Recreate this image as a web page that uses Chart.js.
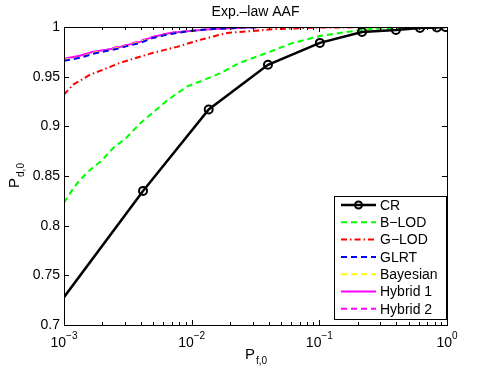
<!DOCTYPE html>
<html>
<head>
<meta charset="utf-8">
<script src="https://cdn.jsdelivr.net/npm/chart.js@4.4.1/dist/chart.umd.min.js"></script>
<style>
  body { margin: 0; background: #fff; }
  canvas { display: block; }
</style>
</head>
<body>
<canvas id="roc" width="494" height="366"></canvas>
<script>
// values (x = P_f,0 on log axis, y = P_d,0)
const crX = [0.001, 0.00416, 0.0136, 0.0396, 0.101, 0.216, 0.398, 0.614, 0.834, 0.97]
const crY = [0.728, 0.835, 0.917, 0.962, 0.984, 0.995, 0.997, 0.999, 0.9995, 1.0]

const bLodX = [0.001, 0.00116, 0.00133, 0.0016, 0.00199, 0.00242, 0.00311, 0.00394, 0.00498, 0.00641, 0.00919, 0.0158, 0.0239, 0.0389, 0.0621, 0.101, 0.164, 0.249, 0.377, 1]
const bLodY = [0.823, 0.836, 0.846, 0.856, 0.866, 0.878, 0.889, 0.903, 0.914, 0.926, 0.940, 0.952, 0.964, 0.974, 0.984, 0.991, 0.995, 0.998, 0.999, 1]

const gLodX = [0.001, 0.00118, 0.0016, 0.00202, 0.00275, 0.00498, 0.00767, 0.0116, 0.0189, 0.0302, 0.0466, 0.1, 1]
const gLodY = [0.932, 0.942, 0.952, 0.957, 0.964, 0.974, 0.980, 0.987, 0.994, 0.996, 0.998, 0.9995, 1]

const stairX = [0.001, 0.00133, 0.00169, 0.00217, 0.0026, 0.00317, 0.00394, 0.00497, 0.00677, 0.00968, 0.0147, 0.0343, 1]
const glrtY = [0.966, 0.969, 0.973, 0.976, 0.978, 0.981, 0.984, 0.989, 0.993, 0.996, 0.998, 1, 1]
const bayesY = [0.967, 0.969, 0.974, 0.976, 0.979, 0.981, 0.985, 0.989, 0.993, 0.996, 0.998, 1, 1]
const hyb1Y = [0.968, 0.971, 0.975, 0.977, 0.979, 0.982, 0.985, 0.990, 0.994, 0.996, 0.998, 1, 1]
const hyb2Y = [0.967, 0.970, 0.974, 0.977, 0.980, 0.982, 0.986, 0.990, 0.994, 0.996, 0.998, 1, 1]

const yTicks = [0.7, 0.75, 0.8, 0.85, 0.9, 0.95, 1]
const yTickLabels = ['0.7', '0.75', '0.8', '0.85', '0.9', '0.95', '1']
const xTicks = [0.001, 0.01, 0.1, 1]
const xTickExp = ['\u22123', '\u22122', '\u22121', '0']

const FONT = '"Liberation Sans", Arial, sans-serif'

const pts = (xs, ys) => xs.map((x, i) => ({ x: x, y: ys[i] }))

const datasets = [
    { label: 'CR', data: pts(crX, crY), borderColor: '#000', borderWidth: 2.5,
      pointRadius: crX.map((x, i) => i === 0 ? 0 : 4), pointStyle: 'circle',
      pointBorderColor: '#000', pointBackgroundColor: 'rgba(0,0,0,0)', pointBorderWidth: 2 },
    { label: 'B\u2212LOD', data: pts(bLodX, bLodY), borderColor: '#00ff00', borderWidth: 2, borderDash: [6, 4] },
    { label: 'G\u2212LOD', data: pts(gLodX, gLodY), borderColor: '#ff0000', borderWidth: 2, borderDash: [6, 3, 1.5, 3] },
    { label: 'GLRT', data: pts(stairX, glrtY), borderColor: '#0000ff', borderWidth: 2, borderDash: [6, 4] },
    { label: 'Bayesian', data: pts(stairX, bayesY), borderColor: '#ffff00', borderWidth: 2, borderDash: [6, 4] },
    { label: 'Hybrid 1', data: pts(stairX, hyb1Y), borderColor: '#ff00ff', borderWidth: 2 },
    { label: 'Hybrid 2', data: pts(stairX, hyb2Y), borderColor: '#ff00ff', borderWidth: 2, borderDash: [6, 4] }
]
datasets.forEach(d => {
    d.fill = false
    d.tension = 0
    if (d.pointRadius === undefined) d.pointRadius = 0
})

// matlab-ish frame, ticks, labels and the boxed legend
const matlabAxes = {
    id: 'matlabAxes',
    afterDraw(chart) {
        const ctx = chart.ctx
        const a = chart.chartArea
        const xs = chart.scales.x
        const ys = chart.scales.y
        ctx.save()
        ctx.strokeStyle = '#000'
        ctx.fillStyle = '#000'
        ctx.lineWidth = 1

        // box
        ctx.strokeRect(a.left + 0.5, a.top + 0.5, a.right - a.left, a.bottom - a.top)

        // y ticks
        ctx.beginPath()
        yTicks.forEach(v => {
            const y = Math.round(ys.getPixelForValue(v)) + 0.5
            ctx.moveTo(a.left, y); ctx.lineTo(a.left + 5, y)
            ctx.moveTo(a.right, y); ctx.lineTo(a.right - 5, y)
        })
        // x ticks, major + minor
        for (let e = -3; e <= 0; e++) {
            for (let m = 1; m <= 9; m++) {
                const v = m * Math.pow(10, e)
                if (v > 1.0001) break
                const x = Math.round(xs.getPixelForValue(v)) + 0.5
                const len = m === 1 ? 5 : 3
                ctx.moveTo(x, a.bottom); ctx.lineTo(x, a.bottom - len)
                ctx.moveTo(x, a.top); ctx.lineTo(x, a.top + len)
            }
        }
        ctx.stroke()

        // y tick labels
        ctx.font = '14px ' + FONT
        ctx.textAlign = 'right'
        ctx.textBaseline = 'middle'
        yTicks.forEach((v, i) => {
            ctx.fillText(yTickLabels[i], a.left - 4, ys.getPixelForValue(v))
        })

        // x tick labels 10^k
        xTicks.forEach((v, i) => {
            const x = xs.getPixelForValue(v)
            ctx.font = '14px ' + FONT
            const w1 = ctx.measureText('10').width
            ctx.font = '10px ' + FONT
            const w2 = ctx.measureText(xTickExp[i]).width
            const x0 = x - (w1 + w2) / 2
            ctx.textAlign = 'left'
            ctx.textBaseline = 'alphabetic'
            ctx.font = '14px ' + FONT
            ctx.fillText('10', x0, a.bottom + 22)
            ctx.font = '10px ' + FONT
            ctx.fillText(xTickExp[i], x0 + w1, a.bottom + 14)
        })

        // x axis label P_f,0
        const cx = (a.left + a.right) / 2
        ctx.font = '15px ' + FONT
        const pw = ctx.measureText('P').width
        ctx.font = '10px ' + FONT
        const sw = ctx.measureText('f,0').width
        ctx.textAlign = 'left'
        ctx.font = '15px ' + FONT
        ctx.fillText('P', cx - (pw + sw) / 2, a.bottom + 34)
        ctx.font = '10px ' + FONT
        ctx.fillText('f,0', cx - (pw + sw) / 2 + pw + 1, a.bottom + 39)

        // y axis label P_d,0
        ctx.save()
        ctx.translate(19, (a.top + a.bottom) / 2)
        ctx.rotate(-Math.PI / 2)
        ctx.font = '15px ' + FONT
        const pw2 = ctx.measureText('P').width
        ctx.font = '10px ' + FONT
        const sw2 = ctx.measureText('d,0').width
        ctx.font = '15px ' + FONT
        ctx.fillText('P', -(pw2 + sw2) / 2, 0)
        ctx.font = '10px ' + FONT
        ctx.fillText('d,0', -(pw2 + sw2) / 2 + pw2 + 1, 5)
        ctx.restore()

        // title
        ctx.font = '14px ' + FONT
        ctx.textAlign = 'center'
        ctx.textBaseline = 'middle'
        ctx.fillText('Exp.\u2013law AAF', cx, 12)

        // legend
        const lx = 334, ly = 196, lw = 112, lh = 123
        ctx.fillStyle = '#fff'
        ctx.fillRect(lx, ly, lw, lh)
        ctx.strokeStyle = '#000'
        ctx.lineWidth = 1
        ctx.strokeRect(lx + 0.5, ly + 0.5, lw, lh)
        chart.data.datasets.forEach((d, i) => {
            const y = ly + 9 + i * 17.3
            ctx.save()
            ctx.strokeStyle = d.borderColor
            ctx.lineWidth = d.borderWidth
            ctx.setLineDash(d.borderDash || [])
            ctx.beginPath()
            ctx.moveTo(lx + 7, y); ctx.lineTo(lx + 42, y)
            ctx.stroke()
            if (i === 0) {
                ctx.setLineDash([])
                ctx.lineWidth = 2
                ctx.beginPath()
                ctx.arc(lx + 24.5, y, 3.5, 0, Math.PI * 2)
                ctx.stroke()
            }
            ctx.restore()
            ctx.fillStyle = '#000'
            ctx.font = '14px ' + FONT
            ctx.textAlign = 'left'
            ctx.textBaseline = 'middle'
            ctx.fillText(d.label, lx + 46, y + 1)
        })
        ctx.restore()
    }
}

new Chart(document.getElementById('roc'), {
    type: 'line',
    data: { datasets: datasets },
    options: {
        responsive: false,
        animation: false,
        parsing: false,
        layout: { padding: { left: 64, top: 27, right: 47, bottom: 41 } },
        plugins: { legend: { display: false }, title: { display: false }, tooltip: { enabled: false } },
        scales: {
            x: { type: 'logarithmic', min: 0.001, max: 1, display: false },
            y: { type: 'linear', min: 0.7, max: 1, display: false }
        }
    },
    plugins: [matlabAxes]
})
</script>
</body>
</html>
